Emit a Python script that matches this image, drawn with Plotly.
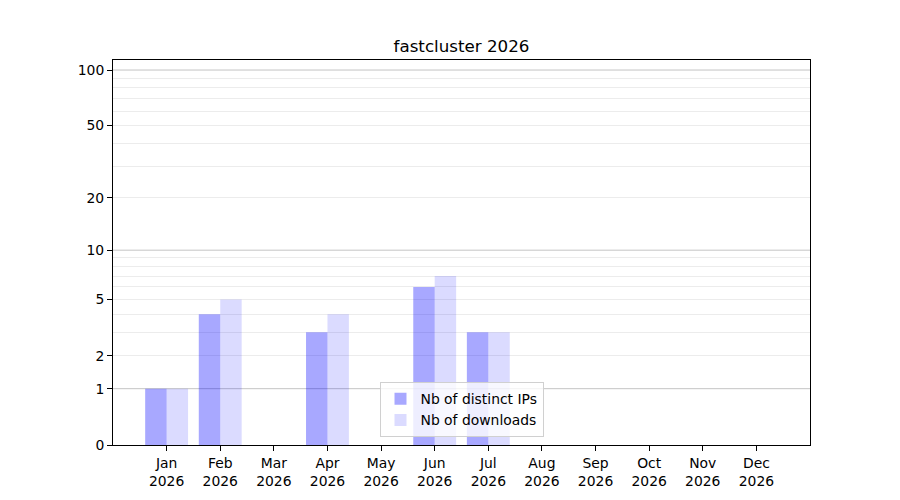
import math

import plotly.graph_objects as go

months = ['Jan', 'Feb', 'Mar', 'Apr', 'May', 'Jun', 'Jul', 'Aug', 'Sep', 'Oct', 'Nov', 'Dec']
year = 2026
distinctIPs = [1, 4, 0, 3, 0, 6, 3, 0, 0, 0, 0, 0]
downloads = [1, 5, 0, 4, 0, 7, 3, 0, 0, 0, 0, 0]
yTicks = [0, 1, 2, 5, 10, 20, 50, 100]
yMinor = [2, 3, 4, 5, 6, 7, 8, 9, 20, 30, 40, 50, 60, 70, 80, 90]
yMajorGrid = [1, 10, 100]

FONT = 'DejaVu Sans'

def toLog1p(v: float) -> float:
    # y axis is log10(1 + x), like the original chart
    return math.log10(1 + v)

xPos = list(range(len(months)))

fig = go.Figure()

fig.add_trace(
    go.Bar(
        x = xPos,
        y = [toLog1p(v) for v in distinctIPs],
        width = 0.4,
        offset = -0.4,
        marker = dict(color = 'rgba(0,0,255,0.34)', line = dict(width = 0)),
        name = 'Nb of distinct IPs'
    )
)

fig.add_trace(
    go.Bar(
        x = xPos,
        y = [toLog1p(v) for v in downloads],
        width = 0.4,
        offset = 0,
        marker = dict(color = 'rgba(0,0,255,0.14)', line = dict(width = 0)),
        name = 'Nb of downloads'
    )
)

for g in yMajorGrid:
    fig.add_shape(
        type = 'line',
        xref = 'paper', x0 = 0, x1 = 1,
        yref = 'y', y0 = toLog1p(g), y1 = toLog1p(g),
        line = dict(color = '#c4c4c4', width = 1),
        layer = 'below'
    )

# the page body adds 8px, so margins are shifted by that
fig.update_layout(
    width = 900,
    height = 500,
    margin = dict(l = 105, r = 98, t = 52, b = 63),
    paper_bgcolor = 'white',
    plot_bgcolor = 'white',
    barmode = 'overlay',
    font = dict(family = FONT, size = 13.9, color = 'black'),
    title = dict(
        text = f'fastcluster {year}',
        x = 0.5, xref = 'paper', xanchor = 'center',
        y = 1 - 38 / 500, yanchor = 'middle',
        font = dict(family = FONT, size = 16.7, color = 'black')
    ),
    xaxis = dict(
        range = [-1, 12],
        tickmode = 'array',
        tickvals = xPos,
        ticktext = [f'{m}<br>{year}' for m in months],
        showgrid = False,
        zeroline = False,
        showline = True,
        linecolor = 'black',
        linewidth = 1,
        mirror = True,
        ticks = 'outside',
        ticklen = 5,
        tickcolor = 'black',
        tickfont = dict(family = FONT, size = 13.9)
    ),
    yaxis = dict(
        range = [0, 2.058],
        tickmode = 'array',
        tickvals = [toLog1p(t) for t in yTicks],
        ticktext = [str(t) for t in yTicks],
        showgrid = False,
        zeroline = False,
        showline = True,
        linecolor = 'black',
        linewidth = 1,
        mirror = True,
        ticks = 'outside',
        ticklen = 5,
        tickcolor = 'black',
        tickfont = dict(family = FONT, size = 13.9),
        minor = dict(
            tickmode = 'array',
            tickvals = [toLog1p(t) for t in yMinor],
            showgrid = True,
            gridcolor = '#ececec',
            gridwidth = 1,
            ticks = ''
        )
    ),
    legend = dict(
        x = 0.5, xanchor = 'center',
        y = 0.02, yanchor = 'bottom',
        bgcolor = 'rgba(255,255,255,0.8)',
        bordercolor = '#d0d0d0',
        borderwidth = 1,
        font = dict(family = FONT, size = 13.9),
        itemsizing = 'constant'
    ),
    showlegend = True
)

fig.write_html('out.html')
